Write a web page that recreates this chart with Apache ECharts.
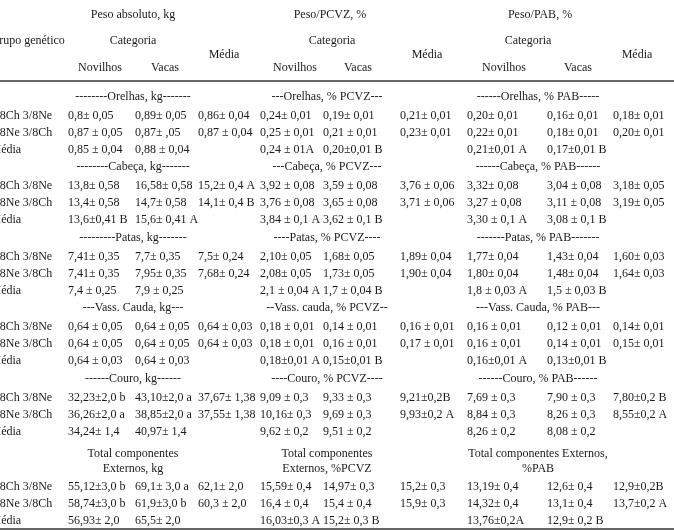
<!DOCTYPE html>
<html><head><meta charset="utf-8">
<script src="https://cdn.jsdelivr.net/npm/echarts@6/dist/echarts.min.js"></script>
<style>html,body{margin:0;padding:0;background:#fff}#c{width:674px;height:530px}</style>
</head><body><div id="c"></div><script>
// ---------- DATA ----------
const groupHeader = 'Grupo genético';
const groups = ['5/8Ch 3/8Ne', '5/8Ne 3/8Ch', 'Média'];
const blocks = ['Peso absoluto, kg', 'Peso/PCVZ, %', 'Peso/PAB, %'];
const categoryLabel = 'Categoria';
const catLabels = ['Novilhos', 'Vacas'];
const meanLabel = 'Média';

const orelhasTitles = ['--------Orelhas, kg-------', '---Orelhas, % PCVZ---', '------Orelhas, % PAB-----'];
const orelhas = [
  ['0,8± 0,05', '0,89± 0,05', '0,86± 0,04', '0,24± 0,01', '0,19± 0,01', '0,21± 0,01', '0,20± 0,01', '0,16± 0,01', '0,18± 0,01'],
  ['0,87 ± 0,05', '0,87± ,05', '0,87 ± 0,04', '0,25 ± 0,01', '0,21 ± 0,01', '0,23± 0,01', '0,22± 0,01', '0,18± 0,01', '0,20± 0,01'],
  ['0,85 ± 0,04', '0,88 ± 0,04', '', '0,24 ± 01A', '0,20±0,01 B', '', '0,21±0,01 A', '0,17±0,01 B', '']
];
const cabecaTitles = ['--------Cabeça, kg-------', '---Cabeça, % PCVZ---', '------Cabeça, % PAB------'];
const cabeca = [
  ['13,8± 0,58', '16,58± 0,58', '15,2± 0,4 A', '3,92 ± 0,08', '3,59 ± 0,08', '3,76 ± 0,06', '3,32± 0,08', '3,04 ± 0,08', '3,18± 0,05'],
  ['13,4± 0,58', '14,7± 0,58', '14,1± 0,4 B', '3,76 ± 0,08', '3,65 ± 0,08', '3,71 ± 0,06', '3,27 ± 0,08', '3,11 ± 0,08', '3,19± 0,05'],
  ['13,6±0,41 B', '15,6± 0,41 A', '', '3,84 ± 0,1 A', '3,62 ± 0,1 B', '', '3,30 ± 0,1 A', '3,08 ± 0,1 B', '']
];
const patasTitles = ['---------Patas, kg-------', '----Patas, % PCVZ----', '-------Patas, % PAB-------'];
const patas = [
  ['7,41± 0,35', '7,7± 0,35', '7,5± 0,24', '2,10± 0,05', '1,68± 0,05', '1,89± 0,04', '1,77± 0,04', '1,43± 0,04', '1,60± 0,03'],
  ['7,41± 0,35', '7,95± 0,35', '7,68± 0,24', '2,08± 0,05', '1,73± 0,05', '1,90± 0,04', '1,80± 0,04', '1,48± 0,04', '1,64± 0,03'],
  ['7,4 ± 0,25', '7,9 ± 0,25', '', '2,1 ± 0,04 A', '1,7 ± 0,04 B', '', '1,8 ± 0,03 A', '1,5 ± 0,03 B', '']
];
const caudaTitles = ['---Vass. Cauda, kg---', '--Vass. cauda, % PCVZ--', '---Vass. Cauda, % PAB---'];
const cauda = [
  ['0,64 ± 0,05', '0,64 ± 0,05', '0,64 ± 0,03', '0,18 ± 0,01', '0,14 ± 0,01', '0,16 ± 0,01', '0,16 ± 0,01', '0,12 ± 0,01', '0,14± 0,01'],
  ['0,64 ± 0,05', '0,64 ± 0,05', '0,64 ± 0,03', '0,18 ± 0,01', '0,16 ± 0,01', '0,17 ± 0,01', '0,16 ± 0,01', '0,14 ± 0,01', '0,15± 0,01'],
  ['0,64 ± 0,03', '0,64 ± 0,03', '', '0,18±0,01 A', '0,15±0,01 B', '', '0,16±0,01 A', '0,13±0,01 B', '']
];
const couroTitles = ['------Couro, kg------', '----Couro, % PCVZ----', '------Couro, % PAB------'];
const couro = [
  ['32,23±2,0 b', '43,10±2,0 a', '37,67± 1,38', '9,09 ± 0,3', '9,33 ± 0,3', '9,21±0,2B', '7,69 ± 0,3', '7,90 ± 0,3', '7,80±0,2 B'],
  ['36,26±2,0 a', '38,85±2,0 a', '37,55± 1,38', '10,16± 0,3', '9,69 ± 0,3', '9,93±0,2 A', '8,84 ± 0,3', '8,26 ± 0,3', '8,55±0,2 A'],
  ['34,24± 1,4', '40,97± 1,4', '', '9,62 ± 0,2', '9,51 ± 0,2', '', '8,26 ± 0,2', '8,08 ± 0,2', '']
];
const totalTitles = ['Total componentes\nExternos, kg', 'Total componentes\nExternos, %PCVZ', 'Total componentes Externos,\n%PAB'];
const total = [
  ['55,12±3,0 b', '69,1± 3,0 a', '62,1± 2,0', '15,59± 0,4', '14,97± 0,3', '15,2± 0,3', '13,19± 0,4', '12,6± 0,4', '12,9±0,2B'],
  ['58,74±3,0 b', '61,9±3,0 b', '60,3 ± 2,0', '16,4 ± 0,4', '15,4 ± 0,4', '15,9± 0,3', '14,32± 0,4', '13,1± 0,4', '13,7±0,2 A'],
  ['56,93± 2,0', '65,5± 2,0', '', '16,03±0,3 A', '15,2± 0,3 B', '', '13,76±0,2A', '12,9± 0,2 B', '']
];

// ---------- LAYOUT ----------
const W = 674, H = 530;
const GROUP_X = -9.5;
const COL_X = [68, 135, 198, 260, 323, 400, 467, 547, 613];
const BLOCK_C = [133, 330, 540];
const CAT_C = [133, 332, 528];
const MEAN_C = [224, 427, 637];
const NOV_C = [100, 295, 504];
const VAC_C = [165, 358, 578];
const SEC_C = [133, 327, 538];
const HDR_Y = {block: 15, cat: 41, mean: 55, sub: 68};
const RULES = [81, 529];
const sections = [
  {titles: orelhasTitles, rows: orelhas, y: 97,  rowY: [116, 133, 150]},
  {titles: cabecaTitles,  rows: cabeca,  y: 167, rowY: [186, 203, 220]},
  {titles: patasTitles,   rows: patas,   y: 238, rowY: [257, 274, 291]},
  {titles: caudaTitles,   rows: cauda,   y: 308, rowY: [327, 344, 361]},
  {titles: couroTitles,   rows: couro,   y: 379, rowY: [398, 415, 432]},
  {titles: totalTitles,   rows: total,   y: 461, rowY: [487, 504, 521]}
];

// ---------- BUILD ----------
const items = [];
function add(x, y, text, align) { items.push({value: [x, y], text: text, align: align}); }
add(GROUP_X, HDR_Y.cat, groupHeader, 'left');
blocks.forEach((b, i) => {
  add(BLOCK_C[i], HDR_Y.block, b, 'center');
  add(CAT_C[i], HDR_Y.cat, categoryLabel, 'center');
  add(MEAN_C[i], HDR_Y.mean, meanLabel, 'center');
  add(NOV_C[i], HDR_Y.sub, catLabels[0], 'center');
  add(VAC_C[i], HDR_Y.sub, catLabels[1], 'center');
});
sections.forEach(sec => {
  sec.titles.forEach((t, i) => add(SEC_C[i], sec.y, t, 'center'));
  sec.rows.forEach((row, r) => {
    const y = sec.rowY[r];
    add(GROUP_X, y, groups[r], 'left');
    row.forEach((v, c) => { if (v) add(COL_X[c], y, v, 'left'); });
  });
});

const FONT = '"Liberation Serif", "Times New Roman", serif';
const chart = echarts.init(document.getElementById('c'));
chart.setOption({
  animation: false,
  backgroundColor: '#fff',
  grid: {left: 0, right: 0, top: 0, bottom: 0},
  xAxis: {type: 'value', min: 0, max: W, show: false},
  yAxis: {type: 'value', min: 0, max: H, inverse: true, show: false},
  series: [{
    type: 'custom',
    coordinateSystem: 'cartesian2d',
    clip: false,
    data: items.map(d => d.value),
    renderItem: function (params, api) {
      const it = items[params.dataIndex];
      const p = api.coord([api.value(0), api.value(1)]);
      return {
        type: 'text', x: p[0], y: p[1],
        style: {
          text: it.text, fill: '#1a1a1a',
          font: '12px ' + FONT, fontSize: 12, fontFamily: FONT,
          align: it.align, verticalAlign: 'middle', lineHeight: 15
        }
      };
    },
    markLine: {
      silent: true, symbol: 'none', animation: false,
      label: {show: false},
      lineStyle: {color: '#333', width: 1.5, type: 'solid'},
      data: RULES.map(v => ({yAxis: v}))
    }
  }]
});
</script></body></html>
